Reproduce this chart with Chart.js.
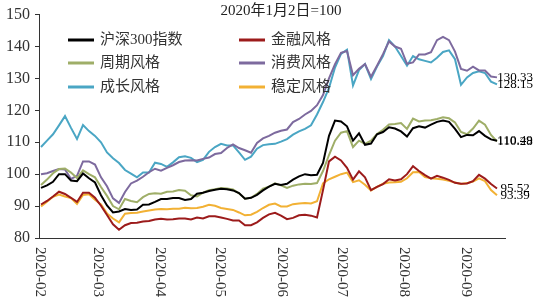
<!DOCTYPE html>
<html>
<head>
<meta charset="utf-8">
<script src="https://cdn.jsdelivr.net/npm/chart.js@4.4.0/dist/chart.umd.min.js"></script>
<style>
  body { margin: 0; background: #fff; }
  #wrap { position: relative; width: 550px; height: 299px; }
</style>
</head>
<body>
<div id="wrap"><canvas id="myChart"></canvas></div>
<script>
var chartTitle = "2020年1月2日=100";
var axisStart = "2020-02-01";
var startDate = "2020-02-02";
var stepDays = 3;
var monthTicks = ["2020-02", "2020-03", "2020-04", "2020-05", "2020-06", "2020-07", "2020-08", "2020-09"];

var names = ["沪深300指数", "金融风格", "周期风格", "消费风格", "成长风格", "稳定风格"];
var colors = ["#000000", "#9c1b1b", "#9fae68", "#7d6a9e", "#4aa6c4", "#f2b134"];

var hs300 = [95.7, 96.5, 97.6, 100, 100, 98, 97.8, 100.2, 98.7, 97.4,
  93.4, 90.2, 88, 88.3, 89.1, 88.8, 88.9, 90.4, 90.5, 91.3,
  92.2, 92.2, 92.5, 92.5, 91.9, 92.2, 93.9, 94.2, 94.7, 95.1,
  95.4, 95.3, 94.9, 94.1, 92.3, 92.6, 93.5, 94.9, 96.1, 97,
  96.6, 97, 98.3, 99.3, 100, 99.7, 99.8, 103.5, 112, 116.8,
  116.5, 115, 110.5, 112.8, 109.2, 109.6, 112.5, 113.2, 114.7, 114.3,
  113.4, 111.8, 114.4, 115, 114.6, 115.5, 116.4, 116.8, 116.4, 114.2,
  111.6, 112.3, 112.2, 113.5, 112, 110.9, 110.49];
var finance = [90.5, 91.6, 93, 94.5, 93.8, 92.6, 91.3, 94.2, 94.2, 92.6,
  90.1, 87.2, 84.3, 82.6, 84, 84.7, 84.8, 85.2, 85.3, 85.8,
  86, 85.8, 85.9, 86.1, 86.1, 85.8, 86.4, 86.1, 86.8, 86.8,
  86.4, 86, 85.5, 85.5, 84, 84, 84.9, 86.3, 87.4, 87.9,
  87, 85.9, 86.3, 87.1, 87.3, 87, 86.4, 95, 104, 105.5,
  104.3, 102, 98.3, 100.9, 99, 95, 96, 96.9, 98.4, 98,
  98.4, 100, 102.5, 101, 99.7, 98.6, 99.5, 98.9, 98.2, 97.3,
  97, 97.1, 97.8, 99.8, 98.6, 96.9, 95.52];
var cycle = [96.6, 98.3, 100.3, 101.6, 101.8, 100.5, 98.8, 101.2, 100, 99,
  96, 93.2, 90, 89, 92.2, 91.6, 91.2, 92.8, 93.8, 94,
  93.9, 94.5, 94.6, 95, 94.8, 93.4, 93, 94.2, 95, 95.3,
  95.7, 95.5, 95.2, 94, 92.3, 92.6, 93.8, 95.5, 96.1, 97.1,
  96.5, 95.7, 96.4, 96.8, 97, 96.9, 97.2, 101, 106, 110.5,
  113, 113.5, 108.5, 110.5, 109.5, 110.5, 112.6, 113.9, 115.6, 115.7,
  116, 114.2, 117.4, 116.5, 116.8, 116.9, 117.3, 117.8, 117.5, 116.2,
  113.2, 112.5, 114.3, 116.8, 115.5, 112.3, 110.28];
var consumer = [100, 100.3, 101, 101.6, 101.5, 98.5, 99.5, 104, 104, 103,
  99, 96.2, 92.4, 91, 94.4, 97.1, 98, 99.2, 100.6, 101.7,
  101.1, 102, 102.8, 103.8, 104.3, 104.4, 104.3, 104.8, 105.2, 106.3,
  106.6, 108.2, 109.3, 108.2, 107.5, 106.7, 109.8, 111.2, 112, 113,
  113.6, 114, 116.3, 117.3, 118.7, 119.8, 121.6, 124.8, 130, 134.5,
  138, 138.6, 131, 133, 134.5, 130.5, 134, 137.6, 141.6, 140,
  139.3, 134.6, 135, 137.5, 137.5, 138.2, 142, 143, 142, 138.4,
  133, 132.4, 133.7, 132.5, 132.5, 130.6, 130.33];
var growth = [108.5, 110.5, 112.5, 115.3, 118.2, 114.5, 111, 115.4, 113.5, 112,
  110, 106.8, 105, 103.5, 101.3, 100.2, 99, 100.5, 100.5, 103.6,
  103.2, 102.3, 103.7, 105.3, 105.6, 105.1, 103.8, 104.5, 107, 108.5,
  109.5, 109, 109, 106.8, 104.5, 105.5, 108, 109.1, 109.4, 109.5,
  110.2, 111, 112.4, 113.4, 114.2, 115.3, 118.7, 122.6, 127, 133.4,
  137.7, 139, 127.8, 132.6, 134.5, 129.8, 133.7, 137, 142, 140,
  137, 134, 137, 136, 135.5, 135, 136.5, 138.3, 138.8, 136,
  128, 130.3, 131.7, 132.2, 131.7, 129, 128.15];
var stable = [89.9, 91.4, 92.9, 93.6, 93, 92.5, 90.7, 93.5, 93.7, 92,
  90.5, 87.7, 86.1, 84.9, 87.6, 87.8, 87.9, 88.3, 88.6, 88.9,
  89.1, 89, 89.2, 89.2, 89.5, 89.3, 89.4, 89.8, 90.4, 90.1,
  89.4, 89.1, 88.8, 88, 87.1, 87.3, 88.2, 89.4, 90.4, 90.8,
  89.9, 89.9, 90.6, 90.8, 91, 90.8, 91.5, 97.1, 98.4, 99.2,
  100, 100.5, 97.5, 98.1, 96.7, 94.9, 96, 97, 97.4, 97.5,
  97.6, 98.7, 100.6, 100.7, 99.1, 98.7, 98.6, 98.3, 97.9, 97.4,
  96.9, 97.2, 97.7, 98.7, 97.8, 95, 93.39];

var series = [hs300, finance, cycle, consumer, growth, stable];

function dayOf(s) {
  return (Date.parse(s) - Date.parse(axisStart)) / 86400000;
}

var firstDay = dayOf(startDate);
var datasets = series.map(function (vals, k) {
  return {
    label: names[k],
    data: vals.map(function (v, i) { return { x: firstDay + i * stepDays, y: v }; }),
    borderColor: colors[k],
    backgroundColor: colors[k],
    borderWidth: 2,
    pointRadius: 0,
    tension: 0,
  };
});

var serif = '"Liberation Serif", "Noto Sans CJK SC", serif';

var extras = {
  id: "extras",
  afterDraw: function (chart) {
    var ctx = chart.ctx;
    var area = chart.chartArea;
    var xs = chart.scales.x;
    ctx.save();

    // month labels, turned to read top to bottom
    ctx.fillStyle = "#333";
    ctx.font = "15px " + serif;
    ctx.textAlign = "left";
    ctx.textBaseline = "middle";
    monthTicks.forEach(function (m) {
      var px = xs.getPixelForValue(dayOf(m + "-01"));
      ctx.save();
      ctx.translate(px + 1, area.bottom + 9);
      ctx.rotate(Math.PI / 2);
      ctx.fillText(m, 0, 0);
      ctx.restore();
    });

    // title
    ctx.fillStyle = "#222";
    ctx.font = "15px " + serif;
    ctx.textAlign = "center";
    ctx.fillText(chartTitle, 281, 11);

    // legend, two columns
    var colX = [68, 239];
    var rowY = [40, 63, 87];
    ctx.textAlign = "left";
    names.forEach(function (n, k) {
      var cx = colX[k % 2];
      var cy = rowY[Math.floor(k / 2)];
      ctx.strokeStyle = colors[k];
      ctx.lineWidth = 3;
      ctx.beginPath();
      ctx.moveTo(cx, cy);
      ctx.lineTo(cx + 26, cy);
      ctx.stroke();
      ctx.fillStyle = "#333";
      ctx.font = "15px " + serif;
      ctx.fillText(n, cx + 32, cy);
    });

    // end value labels
    ctx.fillStyle = "#000";
    ctx.font = "13px " + serif;
    ctx.textAlign = "center";
    series.forEach(function (vals, k) {
      var meta = chart.getDatasetMeta(k);
      var pt = meta.data[meta.data.length - 1];
      ctx.fillText(vals[vals.length - 1].toFixed(2), pt.x + 18, pt.y);
    });
    ctx.restore();
  },
};

var ctx = document.getElementById("myChart").getContext("2d");
var myChart = new Chart(ctx, {
  type: "line",
  data: { datasets: datasets },
  options: {
    responsive: true,
    maintainAspectRatio: false,
    animation: false,
    layout: { padding: { top: 10, right: 45, left: 0, bottom: 0 } },
    plugins: {
      legend: { display: false },
      title: { display: false },
      tooltip: { enabled: false },
    },
    scales: {
      x: {
        type: "linear",
        min: 0,
        max: 233,
        grid: { display: false },
        ticks: { display: false },
        border: { display: true, color: "#333", width: 1 },
        afterFit: function (scale) { scale.height = 61; },
      },
      y: {
        min: 80,
        max: 150,
        ticks: {
          stepSize: 10,
          color: "#333",
          padding: 5,
          font: { family: serif, size: 16 },
        },
        grid: { display: true, drawOnChartArea: false, drawTicks: true, tickLength: 4, color: "#333" },
        border: { display: true, color: "#333", width: 1 },
        afterFit: function (scale) { scale.width = 39; },
      },
    },
  },
  plugins: [extras],
});
</script>
</body>
</html>
